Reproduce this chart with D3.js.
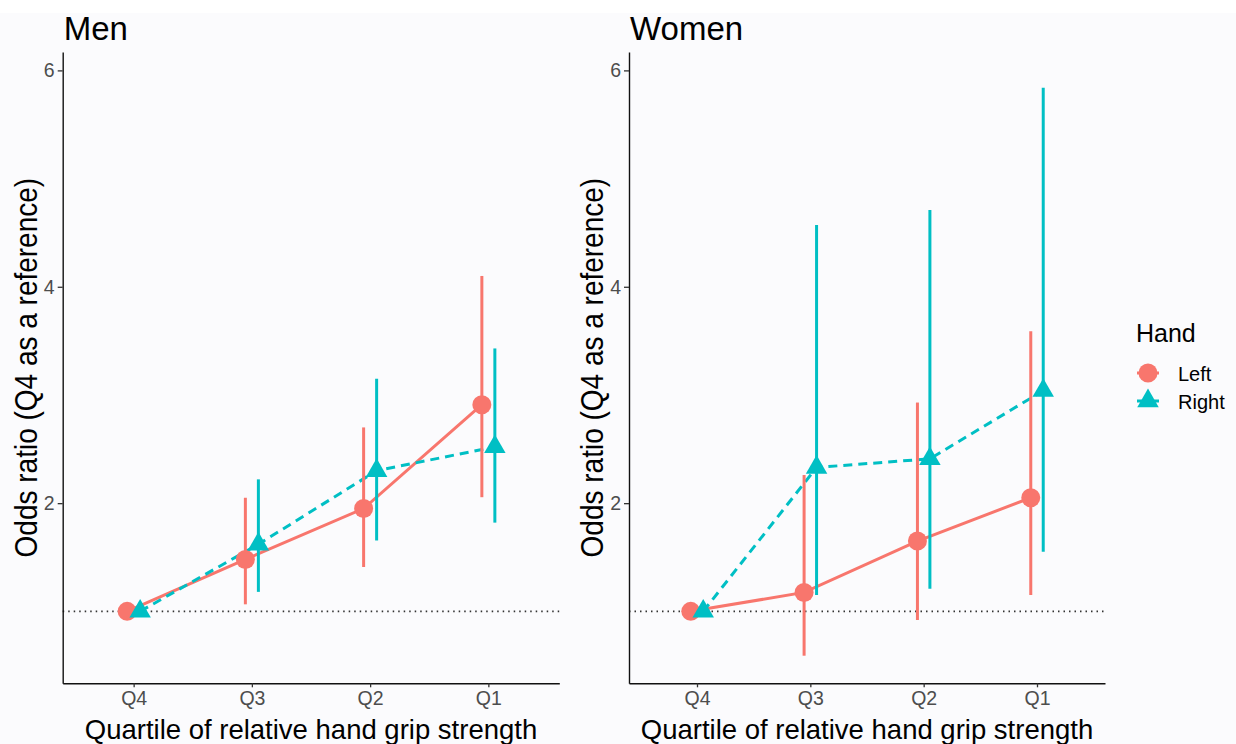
<!DOCTYPE html>
<html>
<head>
<meta charset="utf-8">
<script src="https://cdn.jsdelivr.net/npm/d3@7"></script>
<style>
  body { margin: 0; background: #fff; }
  svg { display: block; font-family: "Liberation Sans", Arial, sans-serif; }
  .tick text { fill: #4d4d4d; font-size: 19.5px; }
  .tick line { stroke: #333; stroke-width: 1.3; }
  .domain { stroke: #111; stroke-width: 1.4; }
</style>
</head>
<body>
<div id="chart"></div>
<script>
// quartile categories, best -> worst (Q4 is the reference)
var quartiles = ["Q4", "Q3", "Q2", "Q1"]
var hands = ["Left", "Right"]
var yTicks = [2, 4, 6]

// Men
var menLeftOR  = [1, 1.48, 1.95, 2.91]
var menLeftLo  = [1, 1.065, 1.41, 2.055]
var menLeftHi  = [1, 2.05, 2.70, 4.10]
var menRightOR = [1, 1.62, 2.30, 2.52]
var menRightLo = [1, 1.18, 1.655, 1.82]
var menRightHi = [1, 2.22, 3.15, 3.43]

// Women
var womenLeftOR  = [1, 1.175, 1.65, 2.05]
var womenLeftLo  = [1, 0.59, 0.92, 1.15]
var womenLeftHi  = [1, 2.26, 2.93, 3.59]
var womenRightOR = [1, 2.33, 2.41, 3.04]
var womenRightLo = [1, 1.15, 1.21, 1.55]
var womenRightHi = [1, 4.57, 4.71, 5.84]

var colors = {Left: "#F8766D", Right: "#00BFC4"}

function rows(or, lo, hi, hand){
  return quartiles.map(function(q, i){ return {q: q, hand: hand, or: or[i], lo: lo[i], hi: hi[i]} })
}

var panels = [
  {title: "Men",   x0: 62.7, x1: 559.3, left: rows(menLeftOR, menLeftLo, menLeftHi, "Left"),
    right: rows(menRightOR, menRightLo, menRightHi, "Right")},
  {title: "Women", x0: 629,  x1: 1105,  left: rows(womenLeftOR, womenLeftLo, womenLeftHi, "Left"),
    right: rows(womenRightOR, womenRightLo, womenRightHi, "Right")}
]

var W = 1236, H = 744
var plotTop = 52, plotBottom = 683.3

var svg = d3.select('#chart').append('svg').attr('width', W).attr('height', H)

svg.append('rect').attr('x', 0).attr('y', 13).attr('width', W).attr('height', H - 13).attr('fill', '#fbfbfd')

var y = d3.scaleLinear().domain([0.335, 6.17]).range([plotBottom, plotTop])

panels.forEach(function(p){
  var x = d3.scalePoint().domain(quartiles).range([p.x0, p.x1]).padding(0.6)
  var dodge = x.step() * 0.055
  var off = {Left: -dodge, Right: dodge}

  var g = svg.append('g')

  // reference line at OR = 1
  g.append('line')
    .attr('x1', p.x0).attr('x2', p.x1)
    .attr('y1', y(1)).attr('y2', y(1))
    .attr('stroke', '#333').attr('stroke-width', 1.6)
    .attr('stroke-dasharray', '1.5,4')

  var line = d3.line()
    .x(function(d){ return x(d.q) + off[d.hand] })
    .y(function(d){ return y(d.or) })

  g.append('path').attr('d', line(p.left))
    .attr('fill', 'none').attr('stroke', colors.Left).attr('stroke-width', 3)
  g.append('path').attr('d', line(p.right))
    .attr('fill', 'none').attr('stroke', colors.Right).attr('stroke-width', 3)
    .attr('stroke-dasharray', '9,6')

  // error bars
  ;[p.left, p.right].forEach(function(data){
    g.selectAll(null).data(data.filter(function(d){ return d.hi > d.lo })).enter()
      .append('line')
      .attr('x1', function(d){ return x(d.q) + off[d.hand] })
      .attr('x2', function(d){ return x(d.q) + off[d.hand] })
      .attr('y1', function(d){ return y(d.lo) })
      .attr('y2', function(d){ return y(d.hi) })
      .attr('stroke', function(d){ return colors[d.hand] })
      .attr('stroke-width', 3)
  })

  g.selectAll(null).data(p.left).enter().append('circle')
    .attr('cx', function(d){ return x(d.q) + off.Left })
    .attr('cy', function(d){ return y(d.or) })
    .attr('r', 9.5)
    .attr('fill', colors.Left)

  g.selectAll(null).data(p.right).enter().append('path')
    .attr('d', d3.symbol().type(d3.symbolTriangle).size(200))
    .attr('transform', function(d){ return 'translate(' + (x(d.q) + off.Right) + ',' + y(d.or) + ')' })
    .attr('fill', colors.Right)

  // axes
  g.append('g').attr('transform', 'translate(0,' + plotBottom + ')')
    .call(d3.axisBottom(x).tickSize(4).tickSizeOuter(0).tickPadding(4))
  g.append('g').attr('transform', 'translate(' + p.x0 + ',0)')
    .call(d3.axisLeft(y).tickValues(yTicks).tickFormat(d3.format('d')).tickSize(5).tickSizeOuter(0).tickPadding(3))
  g.selectAll('.tick text').attr('font-family', null).attr('font-size', null)

  // titles
  g.append('text').attr('x', p.x0 + 1).attr('y', 40)
    .attr('font-size', 33).attr('fill', '#000').text(p.title)

  g.append('text')
    .attr('x', (p.x0 + p.x1) / 2).attr('y', 739)
    .attr('text-anchor', 'middle').attr('font-size', 27.5).attr('fill', '#000')
    .text('Quartile of relative hand grip strength')

  g.append('text')
    .attr('transform', 'translate(' + (p.x0 - 26) + ',' + ((plotTop + plotBottom) / 2) + ') rotate(-90) scale(1,1.15)')
    .attr('text-anchor', 'middle').attr('font-size', 28).attr('fill', '#000')
    .text('Odds ratio (Q4 as a reference)')
})

// legend
var leg = svg.append('g').attr('transform', 'translate(1136,0)')
leg.append('text').attr('x', 0).attr('y', 342).attr('font-size', 25).text('Hand')

hands.forEach(function(h, i){
  var cy = 373 + i * 28
  var row = leg.append('g')
  row.append('line').attr('x1', 1).attr('x2', 23).attr('y1', cy).attr('y2', cy)
    .attr('stroke', colors[h]).attr('stroke-width', 3)
    .attr('stroke-dasharray', h == "Right" ? '9,6' : null)
  if (h == "Left") {
    row.append('circle').attr('cx', 12).attr('cy', cy).attr('r', 9.5).attr('fill', colors[h])
  } else {
    row.append('path').attr('d', d3.symbol().type(d3.symbolTriangle).size(200)())
      .attr('transform', 'translate(12,' + cy + ')').attr('fill', colors[h])
  }
  row.append('text').attr('x', 42).attr('y', cy + 8).attr('font-size', 20).text(h)
})
</script>
</body>
</html>
